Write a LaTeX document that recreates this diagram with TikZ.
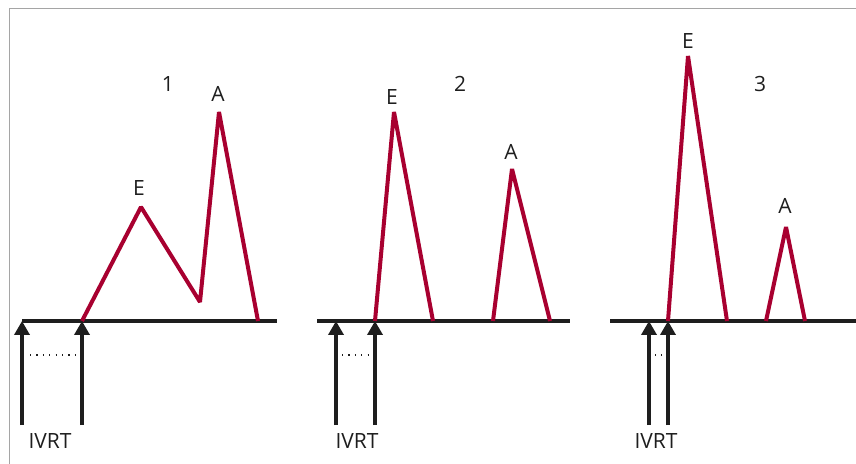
\documentclass[tikz,border=0pt]{standalone}
\usepackage{fontspec}
\setmainfont{Open Sans}
\usetikzlibrary{arrows.meta, positioning}
\definecolor{wavered}{RGB}{168, 0, 48}
\definecolor{framegray}{RGB}{165, 165, 165}
\definecolor{axisblack}{RGB}{30, 30, 30}

\begin{document}
\begin{tikzpicture}[
    x=0.5pt, y=-0.5pt,
    base/.style={line width=2.1pt, axisblack},
    wave/.style={line width=2pt, wavered, line join=bevel},
    valve/.style={-{Triangle[length=7pt, width=7.5pt]}, line width=2.4pt, axisblack},
    gap/.style={dash pattern=on 0.6pt off 2.6pt, line width=0.6pt, axisblack},
    lbl/.style={font=\fontsize{10.5}{12}\selectfont, text=axisblack, inner sep=0pt}
]
\useasboundingbox (0,0) rectangle (856,464);

% Frame
\coordinate (fTL) at (9,9);
\coordinate (fTR) at (860,9);
\coordinate (fBL) at (9,470);
\draw[framegray, line width=0.5pt] (fBL) -- (fTL) -- (fTR);

% Panel 1
\coordinate (b1l) at (22,321);
\coordinate (b1r) at (277,321);
\coordinate (v1a) at (22,425);
\coordinate (v1b) at (82,425);
\coordinate (o1a) at (22,321);
\coordinate (o1b) at (82,321);
\coordinate (e1)  at (141,207);
\coordinate (m1)  at (200,302);
\coordinate (a1)  at (219,112);
\coordinate (z1)  at (258,321);
\coordinate (d1l) at (30,355);
\coordinate (d1r) at (76,355);
\draw[base] (b1l) -- (b1r);
\draw[wave] (o1b) -- (e1) -- (m1) -- (a1) -- (z1);
\draw[valve] (v1a) -- (o1a);
\draw[valve] (v1b) -- (o1b);
\draw[gap] (d1l) -- (d1r);
\node[lbl] (ivrt1) at (50,441) {IVRT};
\node[lbl] (lE1) at (139,188) {E};
\node[lbl] (lA1) at (218,94) {A};
\node[lbl] (n1) at (168,84) {1};

% Panel 2
\coordinate (b2l) at (317,321);
\coordinate (b2r) at (570,321);
\coordinate (v2a) at (336,425);
\coordinate (v2b) at (375,425);
\coordinate (o2a) at (336,321);
\coordinate (o2b) at (375,321);
\coordinate (e2)  at (394,112);
\coordinate (y2)  at (433,321);
\coordinate (s2)  at (493,321);
\coordinate (a2)  at (512,169);
\coordinate (z2)  at (550,321);
\coordinate (d2l) at (342,355);
\coordinate (d2r) at (369,355);
\draw[base] (b2l) -- (b2r);
\draw[wave] (o2b) -- (e2) -- (y2);
\draw[wave] (s2) -- (a2) -- (z2);
\draw[valve] (v2a) -- (o2a);
\draw[valve] (v2b) -- (o2b);
\draw[gap] (d2l) -- (d2r);
\node[lbl] (ivrt2) at (357,441) {IVRT};
\node[lbl] (lE2) at (392,97) {E};
\node[lbl] (lA2) at (511,152) {A};
\node[lbl] (n2) at (460,84) {2};

% Panel 3
\coordinate (b3l) at (610,321);
\coordinate (b3r) at (856,321);
\coordinate (v3a) at (649,425);
\coordinate (v3b) at (668,425);
\coordinate (o3a) at (649,321);
\coordinate (o3b) at (668,321);
\coordinate (e3)  at (688,56);
\coordinate (y3)  at (727,321);
\coordinate (s3)  at (766,321);
\coordinate (a3)  at (786,227);
\coordinate (z3)  at (805,321);
\coordinate (d3l) at (655,355);
\coordinate (d3r) at (662,355);
\draw[base] (b3l) -- (b3r);
\draw[wave] (o3b) -- (e3) -- (y3);
\draw[wave] (s3) -- (a3) -- (z3);
\draw[valve] (v3a) -- (o3a);
\draw[valve] (v3b) -- (o3b);
\draw[gap] (d3l) -- (d3r);
\node[lbl] (ivrt3) at (656,441) {IVRT};
\node[lbl] (lE3) at (688,41) {E};
\node[lbl] (lA3) at (785,206) {A};
\node[lbl] (n3) at (760,84) {3};

\end{tikzpicture}
\end{document}
